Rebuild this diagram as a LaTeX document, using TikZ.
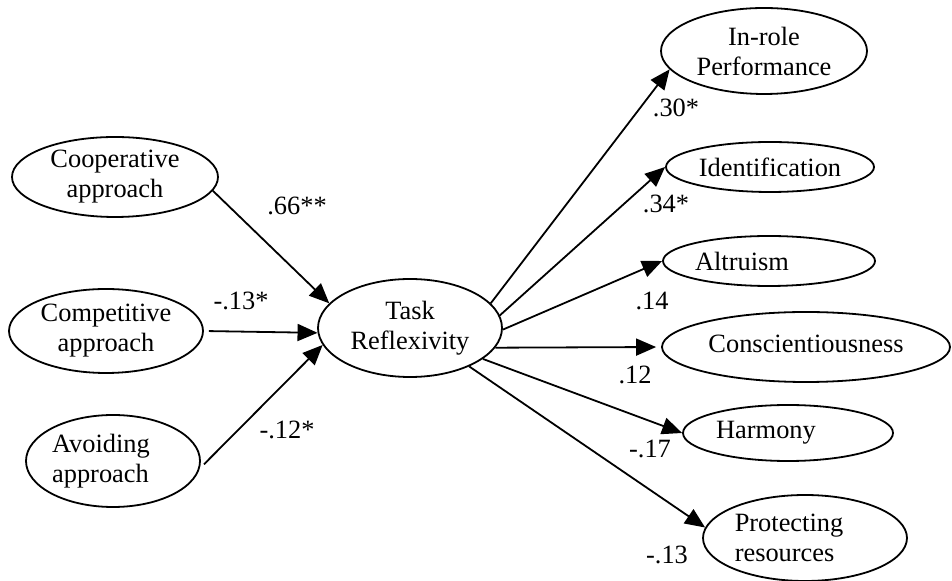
\documentclass[tikz,border=0pt]{standalone}
\usepackage{fontspec}
\setmainfont{Liberation Serif}
\usetikzlibrary{shapes.geometric,arrows.meta}
\begin{document}
\begin{tikzpicture}[x=0.5pt,y=-0.5pt,
  every node/.style={font=\fontsize{13.2}{15}\selectfont},
  var/.style={ellipse,draw,line width=0.9pt,inner sep=0pt,align=center},
  coef/.style={inner sep=0pt},
  conn/.style={-{Triangle[length=10pt,width=8.5pt]},line width=0.9pt}]
\useasboundingbox (0,0) rectangle (952,581);
% left variables
\node[var,minimum width=103pt,minimum height=40pt] (coop) at (115,177) {Cooperative\\approach};
\node[var,minimum width=97pt,minimum height=42pt] (comp) at (106,331) {Competitive\\approach};
\node[var,minimum width=87pt,minimum height=46pt,align=left] (avoid) at (113,461) {Avoiding\hspace*{12pt}\\approach};
% mediator
\node[var,minimum width=92pt,minimum height=49pt] (tr) at (410,328) {Task\\Reflexivity};
% outcomes
\node[var,minimum width=103pt,minimum height=43pt] (inrole) at (764,51) {In-role\\Performance};
\node[var,minimum width=104pt,minimum height=25pt] (ident) at (770,167) {Identification};
\node[var,minimum width=106pt,minimum height=25pt] (altr) at (769,261) {Altruism\hspace*{27pt}};
\node[var,minimum width=144pt,minimum height=35pt] (consc) at (806,347) {\raisebox{3.5pt}{Conscientiousness}};
\node[var,minimum width=105pt,minimum height=28pt] (harm) at (788,433) {Harmony\hspace*{22pt}};
\node[var,minimum width=102pt,minimum height=43pt,align=left] (prot) at (805,538) {Protecting\hspace*{16pt}\\resources};
% connectors
\draw[conn] (coop.-8) -- (tr.163);
\draw[conn,shorten <=2.5pt] (comp.0) -- (tr.183);
\draw[conn,shorten <=3pt] (avoid.-5) -- (tr.191);
\draw[conn] (tr.17) -- (inrole.191);
\draw[conn] (tr.8) -- (ident.180);
\draw[conn] (tr.-1) -- (altr.180);
\draw[conn,shorten >=2.5pt] (tr.-13) -- (consc.180);
\draw[conn] (tr.-23) -- (harm.180);
\draw[conn] (tr.-33) -- (prot.174);
% coefficients
\node[coef] (c1) at (297,206) {.66**};
\node[coef] (c2) at (241,301) {-.13*};
\node[coef] (c3) at (287,430) {-.12*};
\node[coef] (c4) at (676,108) {.30*};
\node[coef] (c5) at (666,204) {.34*};
\node[coef] (c6) at (652,301) {.14};
\node[coef] (c7) at (635,375) {.12};
\node[coef] (c8) at (650,449) {-.17};
\node[coef] (c9) at (667,555) {-.13};
\end{tikzpicture}
\end{document}
